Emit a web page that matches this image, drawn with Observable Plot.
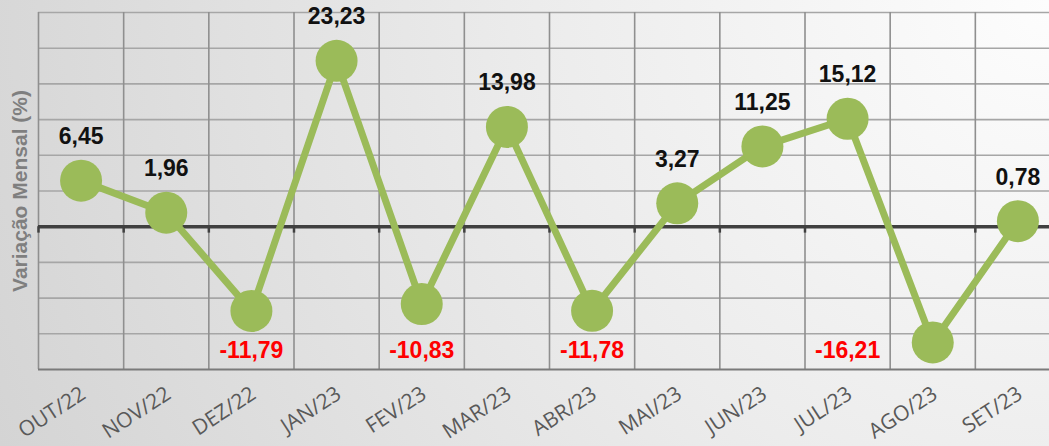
<!DOCTYPE html>
<html>
<head>
<meta charset="utf-8">
<script src="https://cdn.jsdelivr.net/npm/d3@7"></script>
<script src="https://cdn.jsdelivr.net/npm/@observablehq/plot@0.6"></script>
<style>
  html, body { margin: 0; padding: 0; }
  body {
    width: 1049px; height: 446px; overflow: hidden;
    background: radial-gradient(circle farthest-corner at 100% 0%, #fdfdfd 0%, #ececec 45%, #d4d4d4 100%);
  }
  #chart svg { display: block; overflow: hidden; }
</style>
</head>
<body>
<div id="chart"></div>
<script>
// ---- Data ----
const months = ["OUT/22", "NOV/22", "DEZ/22", "JAN/23", "FEV/23", "MAR/23", "ABR/23", "MAI/23", "JUN/23", "JUL/23", "AGO/23", "SET/23"];
const values = [6.45, 1.96, -11.79, 23.23, -10.83, 13.98, -11.78, 3.27, 11.25, 15.12, -16.21, 0.78];
const yGridValues = [-20, -15, -10, -5, 0, 5, 10, 15, 20, 25, 30];
const yTitle = "Variação Mensal (%)";

// ---- Build ----
const data = months.map((m, i) => ({ i, m, v: values[i] }));
const fmt = v => v.toFixed(2).replace(".", ",");
const bounds = d3.range(months.length + 1).map(k => k - 0.5);
const xMin = -0.5, xMax = months.length - 0.5;
const yMin = d3.min(yGridValues), yMax = d3.max(yGridValues);
// the label of the last negative value sits one column to the left in the original
const labelColumn = d => (d.m === "AGO/23" ? d.i - 1 : d.i);

const chart = Plot.plot({
  width: 1049,
  height: 446,
  marginTop: 12,
  marginBottom: 77,
  marginLeft: 38,
  marginRight: 0,
  x: { domain: [xMin, xMax], range: [38, 1060], axis: null },
  y: { domain: [yMin, yMax], axis: null },
  style: { background: "transparent", overflow: "hidden" },
  marks: [
    Plot.ruleY(yGridValues.filter(v => v !== 0 && v !== yMin), { x1: xMin, x2: xMax, stroke: "#a6a6a6", strokeWidth: 1.6 }),
    Plot.ruleX(bounds, { y1: yMin, y2: yMax, stroke: "#8f8f8f", strokeWidth: 1.6 }),
    Plot.ruleY([yMin], { x1: xMin, x2: xMax, stroke: "#7a7a7a", strokeWidth: 2 }),
    Plot.ruleX(bounds, { y1: 0, y2: -0.9, stroke: "#404040", strokeWidth: 2.5 }),
    Plot.ruleY([0], { x1: xMin, x2: xMax, stroke: "#404040", strokeWidth: 3.5 }),
    Plot.line(data, { x: "i", y: "v", stroke: "#9bbb59", strokeWidth: 7 }),
    Plot.dot(data, { x: "i", y: "v", r: 21, fill: "#9bbb59", stroke: "none" }),
    Plot.text(data.filter(d => d.v >= 0), {
      x: "i", y: "v", text: d => fmt(d.v), dy: -44,
      fontSize: 23, fontWeight: "bold", fill: "#111111", fontFamily: "Liberation Sans, Arial, sans-serif"
    }),
    Plot.text(data.filter(d => d.v < 0), {
      x: labelColumn, text: d => fmt(d.v), frameAnchor: "bottom", dy: -12,
      fontSize: 23, fontWeight: "bold", fill: "#ff0000", fontFamily: "Liberation Sans, Arial, sans-serif"
    }),
    Plot.text(data, {
      x: "i", text: "m", frameAnchor: "bottom", rotate: -33, textAnchor: "end",
      dx: 6, dy: 28, fontSize: 21, fill: "#595959", fontFamily: "Open Sans, sans-serif"
    }),
    Plot.text([yTitle], {
      text: d => d, frameAnchor: "left", rotate: -90, textAnchor: "middle", dx: -18,
      fontSize: 21, fontWeight: "bold", fill: "#7f7f7f", fontFamily: "Liberation Sans, Arial, sans-serif"
    })
  ]
});
document.getElementById("chart").appendChild(chart);
</script>
</body>
</html>
